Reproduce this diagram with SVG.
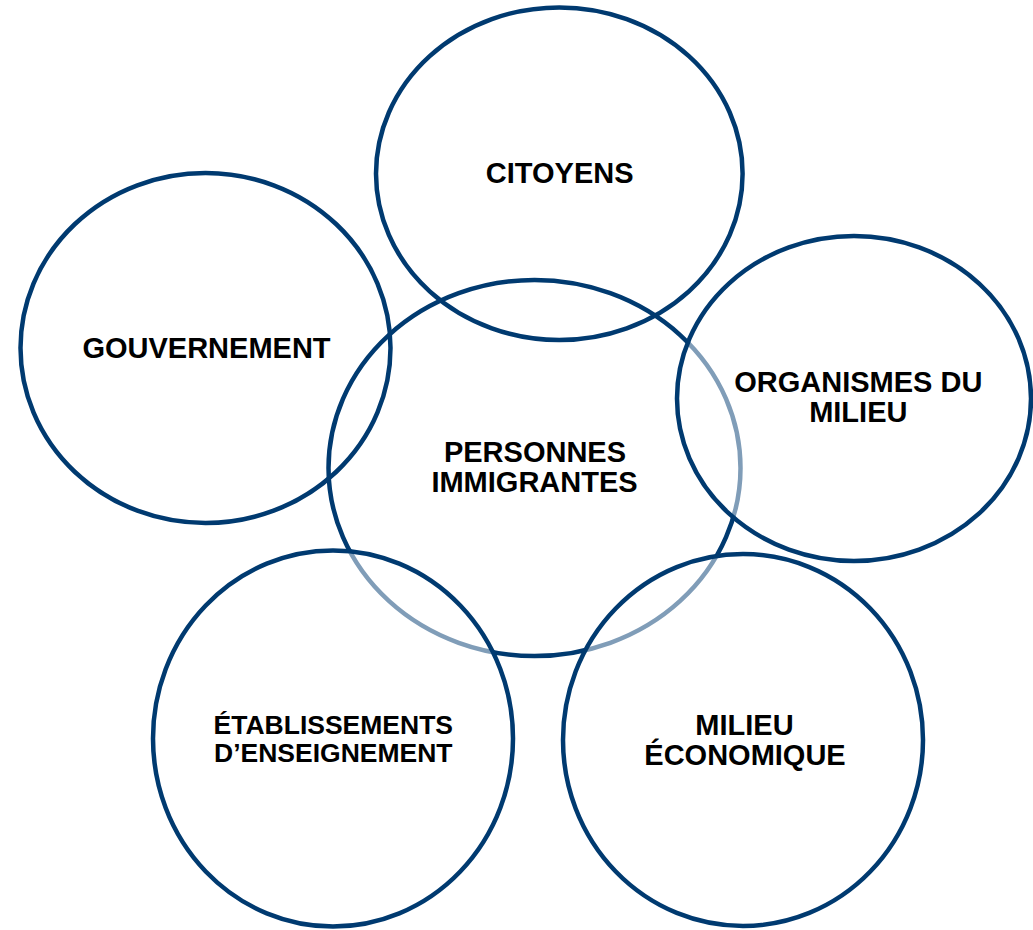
<svg xmlns="http://www.w3.org/2000/svg" width="1033" height="930" viewBox="0 0 1033 930">
<style>
.c{stroke:#003A70;stroke-width:4.5;fill:none}
.f{fill:#ffffff;fill-opacity:0.5}
text{font-family:"Liberation Sans",Arial,sans-serif;font-weight:bold;font-size:29px;fill:#000;text-anchor:middle}
.s{font-size:26.5px}
</style>
<rect width="1033" height="930" fill="#ffffff"/>
<g id="gouvernement">
<ellipse class="c" cx="205.5" cy="348" rx="185" ry="175"/>
<text x="206.5" y="358">GOUVERNEMENT</text>
</g>
<g id="citoyens">
<ellipse class="c" cx="559.3" cy="173.7" rx="183.3" ry="166.3"/>
<text x="559.7" y="182.7">CITOYENS</text>
</g>
<g id="personnes-immigrantes">
<ellipse class="c" cx="534.5" cy="468" rx="206" ry="188"/>
<text x="535" y="461.7">PERSONNES</text>
<text x="534.5" y="491.7">IMMIGRANTES</text>
</g>
<g id="organismes">
<ellipse class="c f" cx="854" cy="398.5" rx="177" ry="162.5"/>
<text x="858.3" y="392">ORGANISMES DU</text>
<text x="858.3" y="422">MILIEU</text>
</g>
<g id="etablissements">
<ellipse class="c f" cx="333" cy="738.5" rx="180" ry="188"/>
<text class="s" x="333.3" y="734">ÉTABLISSEMENTS</text>
<text class="s" x="333.3" y="762">D’ENSEIGNEMENT</text>
</g>
<g id="milieu-economique">
<ellipse class="c f" cx="743" cy="740" rx="180" ry="186"/>
<text x="744.5" y="735">MILIEU</text>
<text x="745" y="765">ÉCONOMIQUE</text>
</g>
<g id="connectors"></g>
</svg>
